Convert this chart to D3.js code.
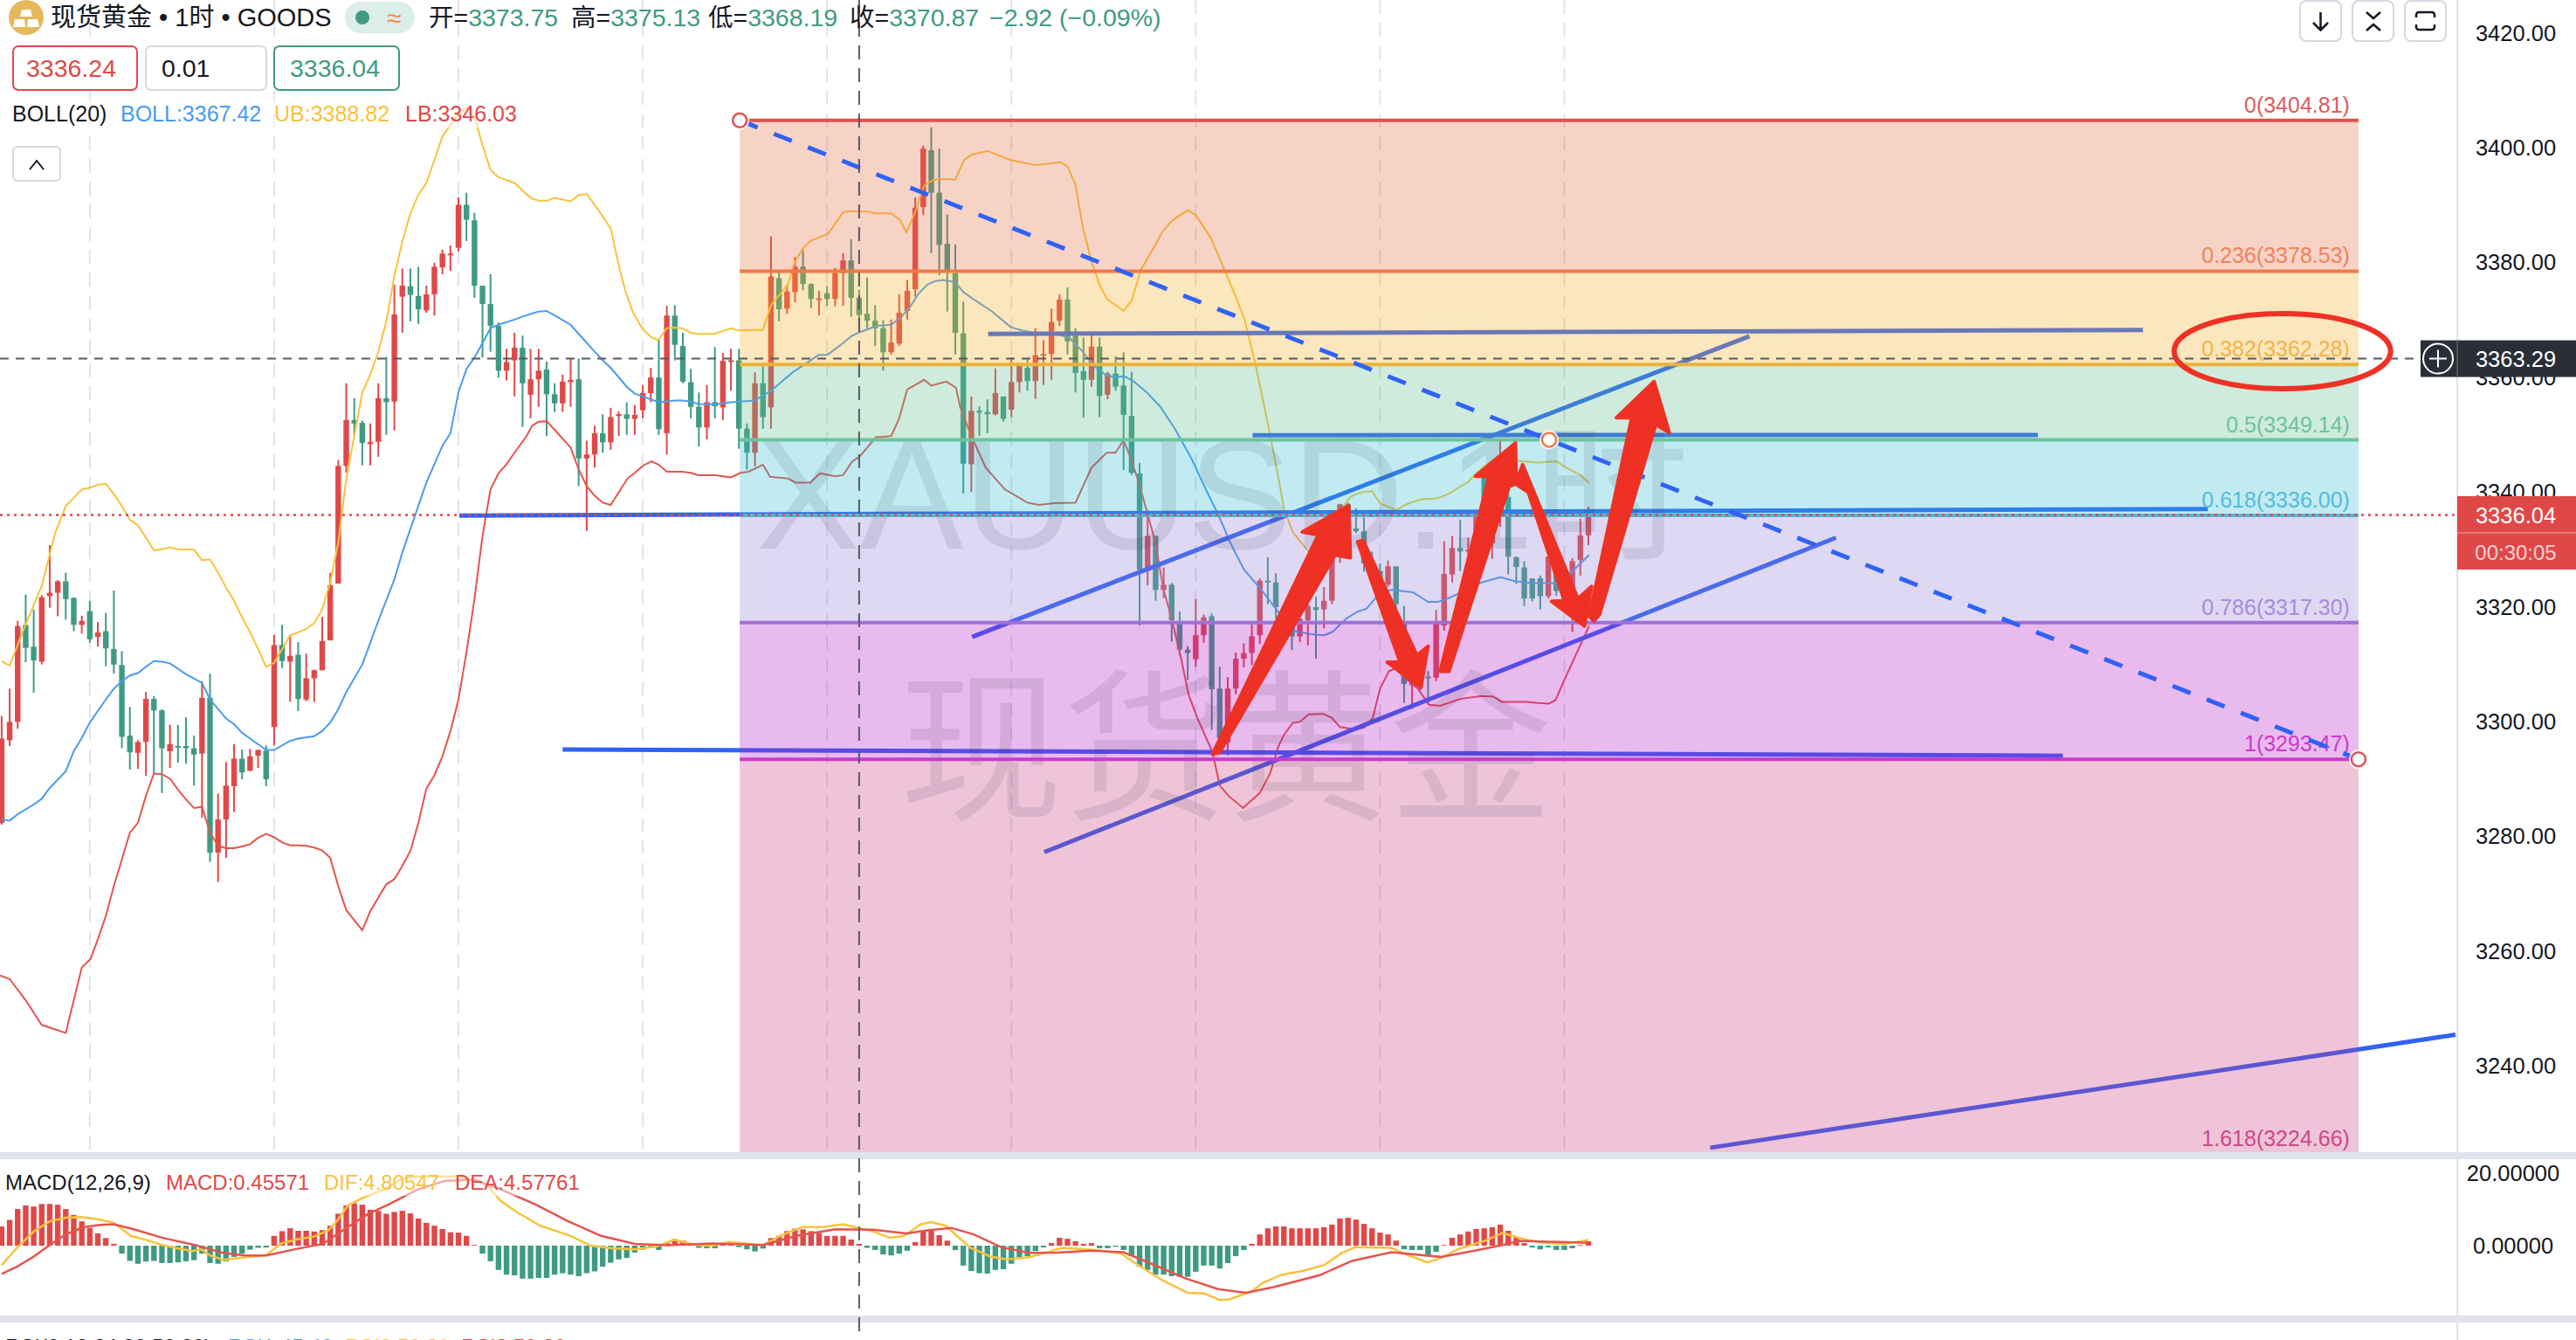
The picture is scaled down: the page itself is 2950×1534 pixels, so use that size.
<!DOCTYPE html>
<html><head><meta charset="utf-8">
<script src="https://cdn.jsdelivr.net/npm/d3@7/dist/d3.min.js"></script>
<style>html,body{margin:0;padding:0;background:#fff;overflow:hidden}svg{display:block}text{font-family:"Liberation Sans","Noto Sans CJK SC",sans-serif}</style>
</head><body><svg id="c" width="2950" height="1534"></svg>
<script>
const opens=[3282.4,3296.8,3300,3316.9,3313.1,3310.5,3321.9,3322.5,3324.5,3321.6,3316.9,3319.3,3314.8,3315.8,3312.7,3309.9,3297.6,3294.6,3296.5,3304,3302,3294.9,3295.8,3295.8,3295.4,3294.5,3304.2,3277.2,3283,3288.8,3293.6,3291.5,3294.1,3295,3299.1,3313.4,3310.5,3311.7,3303.9,3307.6,3309,3314.2,3324.1,3344.6,3352.6,3352.1,3348.4,3348.8,3356.4,3355.8,3374.1,3375.9,3374.2,3371.7,3374.5,3379.2,3381.3,3382.6,3390.1,3387.4,3376,3372.8,3369,3361.2,3363,3365.2,3357,3359.7,3361.4,3357.1,3355.5,3359.2,3359.7,3345.9,3346.6,3350.3,3348.7,3353.4,3353.6,3352.8,3354.3,3357.3,3360,3350.3,3370.8,3365.5,3359.2,3354.9,3351.3,3355.7,3354.8,3362.8,3363,3351.1,3346.9,3359,3354.8,3377.3,3372,3374.9,3379.3,3376.3,3373.5,3374.7,3373.7,3378.2,3380.4,3373.9,3371.1,3369.9,3368.6,3364.4,3365.9,3371.6,3375.4,3389.7,3399.6,3392.2,3383.3,3378.2,3367.7,3344.9,3354.2,3354,3353.6,3356.7,3354.4,3359.2,3361.7,3359.4,3363.9,3364.1,3369.9,3373.6,3367.3,3361.1,3359.6,3365.4,3357,3360.7,3358.6,3353.3,3343.3,3326.3,3332.4,3323,3323.9,3317.4,3312.6,3310.9,3315.1,3318.4,3305.8,3296.4,3305.8,3311,3312,3315.1,3324.6,3324.3,3316.4,3319.5,3314.9,3317.7,3320,3319.6,3321.1,3328.9,3337.9,3333.7,3333.2,3328,3326.3,3323.9,3327.1,3317.2,3306.4,3306.8,3307.9,3307.7,3316.8,3325.7,3330.3,3329.8,3330.1,3343,3331.1,3335.7,3339.2,3328.7,3326.9,3325,3325,3321.9,3328,3321,3323,3328.2,3332.5];
const highs=[3301,3305.8,3317.6,3322.2,3319.6,3322.1,3330.8,3324.7,3326,3321.7,3318.5,3321.1,3317.4,3319,3322.9,3312.3,3302.6,3296.8,3305.2,3304.5,3302.2,3299.5,3299.5,3300.8,3297.6,3307.1,3308.4,3287.5,3293,3296.1,3295.2,3295.3,3295.2,3295.9,3315.2,3316.9,3315.1,3313.9,3311.9,3309.1,3318.3,3326,3345.6,3359,3356.4,3352.5,3352,3359,3363.6,3376.2,3379,3379,3379.3,3376,3380,3382.3,3383,3391.4,3392.2,3388.7,3376,3378,3369.6,3365,3367.8,3367.3,3365,3365,3362.8,3359,3360.5,3363.3,3363.3,3349,3351.6,3353.6,3354.7,3354.1,3355.7,3355.2,3358.7,3361.7,3366.8,3372.5,3372.6,3367.8,3361.5,3357.4,3358.7,3365.3,3364.3,3365,3365,3352,3360.9,3362,3384.6,3378.3,3376.2,3381,3382.2,3376.4,3375.1,3375.9,3379.1,3381.7,3384.1,3375.3,3377.4,3372.6,3370,3370.1,3374.5,3377,3391.4,3400.4,3403.6,3399.9,3388.4,3383.2,3373.2,3356.7,3355,3356.2,3361.6,3356.7,3363.5,3362.5,3363.2,3368.6,3366.5,3372,3374.5,3375.7,3368.6,3367,3367.9,3367,3361,3363.7,3364.4,3361,3345.1,3336.9,3332.4,3326.9,3324.2,3319.2,3313.2,3321.4,3318.7,3318.9,3309.6,3307.8,3312.1,3313.7,3317,3325,3328.7,3325.9,3320.5,3320.5,3320.5,3321.2,3321.8,3323.5,3329.3,3338,3338.2,3337.2,3335.6,3329.7,3327.6,3328.1,3327.1,3320.2,3309.3,3307.6,3308.9,3319.5,3331.5,3332.4,3335.2,3332.1,3335.9,3343,3336,3349.1,3346,3328.8,3328,3325,3325.5,3328.8,3328.8,3323,3328.5,3335.4,3337.5];
const lows=[3282.1,3295.8,3298.8,3310.4,3305.1,3310,3319.9,3318.4,3317.8,3315.8,3315.4,3313.8,3313.1,3309.7,3308.4,3295.4,3291.7,3291.8,3290.6,3291.1,3287.6,3292,3292.9,3292.7,3288.9,3283.3,3275.6,3272.1,3276.3,3284.3,3290,3291.4,3292,3288.8,3295.9,3309.4,3303.5,3301.9,3303.6,3303.5,3309,3314.2,3324.1,3343.4,3349.8,3344.7,3344.7,3346.2,3350,3350.8,3367.8,3369.8,3369.3,3371.3,3370.8,3378,3378.6,3382,3383.8,3373.9,3363.5,3364.5,3360,3359.5,3356.7,3351.4,3352.9,3354.9,3349.8,3354,3354,3354.9,3341.1,3333.3,3344.3,3346.9,3347.4,3349.8,3350,3350,3352.9,3355.7,3350,3346.6,3363,3359,3352.9,3348,3349.2,3352.9,3352.6,3357.7,3347.6,3344,3344.5,3351.1,3351.1,3369.8,3371.1,3373.1,3375.2,3372.1,3370.8,3372.5,3372.4,3372.5,3370.6,3368.3,3368.3,3365.5,3361.2,3364,3365.5,3370.1,3374.1,3388.3,3381.7,3377.8,3371.5,3364,3339.8,3340.1,3349.8,3350.3,3353.4,3352.3,3353.1,3357.4,3357.7,3356.3,3358.7,3359.6,3369,3364,3357.4,3353,3358.4,3353.1,3356.2,3357.7,3343.9,3343,3316.8,3323.8,3321.1,3321.6,3314,3311.6,3307.3,3309.6,3313.8,3298.6,3294.7,3294.2,3304.8,3309.5,3309.9,3313.6,3320.5,3318,3315.2,3312.5,3313.9,3313.3,3311,3316.3,3320.5,3327.7,3333.4,3332.9,3326.2,3325,3321.5,3323.5,3319.5,3303.3,3302.3,3305.4,3303,3307.1,3315.9,3324.3,3326.3,3327,3328.8,3334,3328.4,3334,3325.7,3324,3320.2,3321,3319.6,3321.5,3322,3320,3315.7,3325.5,3330.8];
const closes=[3297.1,3300,3316.7,3312.9,3310.7,3321.7,3322.5,3324.5,3321.4,3316.9,3317.6,3314.4,3315.6,3312.8,3310,3297.4,3294.7,3296.5,3304,3302,3295.4,3296.1,3295.6,3295.4,3294.3,3304.2,3277.2,3283,3288.9,3293.6,3291.2,3294,3295.1,3290,3313.4,3310.6,3311.5,3304,3307.6,3309,3314.1,3323.8,3344.6,3352.6,3352,3348.6,3348.8,3356.4,3355.7,3371,3376,3374.4,3371.9,3374.5,3379.3,3381.6,3381.6,3390.1,3387.5,3376,3372.8,3369,3361.2,3362.7,3365.2,3359,3359.7,3361.2,3357.1,3355.5,3359.3,3359.6,3345.9,3346.6,3350.3,3348.7,3353.1,3353.6,3352.8,3353.5,3357.3,3360,3351,3370.8,3365.7,3359.3,3354.9,3351.3,3355.7,3355,3362.9,3363,3351.1,3346.9,3359,3353.1,3377.6,3371.9,3375,3379.3,3376.3,3373.7,3373.8,3373.7,3378.2,3380.4,3373.9,3370.9,3369.9,3368.6,3364.4,3366.1,3371.3,3375.1,3389.6,3399.9,3392.2,3383.1,3378.3,3367.8,3345,3354.2,3354,3353.6,3357.3,3352.8,3359.2,3362.1,3359.4,3363.9,3364.1,3369.7,3373.6,3366.3,3360.8,3359.6,3365.4,3356.8,3360.7,3358.4,3353.5,3343.4,3326.5,3332.4,3323,3323.9,3317.7,3312.6,3312,3315.1,3318.2,3305.7,3297.2,3305.8,3311,3312,3314.9,3324.6,3324.4,3320,3320,3314.9,3318,3320.2,3319.5,3321.1,3328.8,3337.9,3333.8,3333.2,3327.6,3325.3,3322.3,3327.1,3320.5,3306.6,3307.6,3306,3307.6,3317.2,3325.8,3330.3,3329.7,3330,3335.7,3335.7,3335.7,3346.3,3328.8,3327,3321.5,3321.5,3321.9,3328.8,3322.8,3322,3328,3332.5,3336.04];
const macdHist=[5.3,7.1,10.1,11.1,10.8,11.5,11.5,11.3,10.1,8.5,6.7,4.9,3.4,2.1,0.5,-2.2,-4.2,-5,-4.4,-4.2,-4.8,-4.8,-4.6,-4.3,-4,-2.2,-4.8,-5,-4.3,-3.1,-2.2,-1.1,-0.6,-0.5,2.7,4,4.8,4.1,4.1,3.9,4.3,5.5,8.8,11.1,11.7,11.3,9.9,9.6,8.8,9.3,9.6,8.9,7.5,6.3,5.5,4.6,3.7,3.6,2.7,0.2,-2.2,-4.3,-6.7,-8,-8.2,-9.1,-9.1,-8.9,-8.9,-8,-7.6,-8,-8.4,-7.6,-7.1,-5.8,-4.7,-3.8,-3.4,-1.9,-1.1,-0.6,-1.2,1,1.8,1.4,0.6,-0.6,-0.7,-0.7,0.6,0.4,-0.4,-1,-1.6,-0.8,2.1,2.7,4,4.7,4.5,4,3.5,2.7,2.7,2.7,1.7,0.5,-0.6,-1.2,-2.4,-2.7,-2.2,-1.4,1,3.9,4.3,2.9,1.4,-1.2,-5.5,-7,-7.6,-7.7,-6.7,-6.5,-5,-3.2,-2.9,-1.5,-0.5,0.7,2.2,1.9,1.2,0.5,0.7,-0.7,-0.7,-0.3,-1.2,-2.9,-5.8,-6.7,-8,-8,-8.4,-8.6,-8.6,-7.2,-5.5,-5.5,-6.3,-4.8,-2.9,-1.2,0.5,3.1,4.8,5.3,5.3,4.8,4.8,4.8,4.8,5.1,5.8,7.5,7.7,7.2,6,4.8,3.6,3.1,1.4,-1,-1.2,-1.2,-2.9,-1.7,0.2,2.2,3.1,3.9,4.6,4.8,5.1,5.8,4.1,2.4,0.7,-0.5,-1,-0.5,-1.2,-1.2,-0.7,0.2,1.2];
// [candle index, value] vertices
const bollUpper=[[0,3310.6],[1,3309.8],[2.6,3315.6],[5,3323.7],[6.7,3333],[8,3337.6],[10,3340.5],[11,3340.8],[12,3341.3],[13,3341.5],[14,3339.7],[15,3337.6],[16,3335.2],[17,3334.3],[19,3329.9],[20,3330.1],[21,3330.4],[22,3330.1],[24,3330],[25,3328.2],[26,3328.3],[27,3326],[28,3323.4],[29,3321.1],[30,3318.2],[31,3315.6],[32,3312.7],[33,3309.6],[34,3310.3],[35,3312.7],[36,3315.1],[37,3315.6],[38,3316.2],[39,3317.2],[40,3319.6],[41,3324.3],[42,3331.2],[43,3342.3],[44,3349.8],[45,3357.4],[46,3360.5],[47,3364.5],[48,3369.8],[49,3377.7],[50,3383.7],[51,3388.6],[52,3391.9],[53,3393.9],[54,3397.9],[55,3402],[56,3404],[57,3405.8],[58,3407],[59,3405.5],[60,3400.5],[61,3396.2],[62,3394.9],[64,3393.9],[65,3392.6],[66,3391.3],[67,3390.8],[68,3390.8],[69,3391.3],[70,3391],[71,3390.7],[72,3391.8],[73,3392],[74,3390.1],[75,3388.1],[76,3386],[76.9,3380.2],[77.8,3375.2],[78.8,3371.3],[79.9,3368.6],[81,3367.1],[81.9,3366.5],[83,3368.6],[84,3368.7],[84.9,3368.6],[86,3367.8],[86.9,3367.6],[88.9,3367.6],[91,3368.6],[91.9,3368.2],[94,3368.3],[95,3368.3],[96,3372.6],[98.1,3376.2],[99,3380.2],[100,3382.5],[100.9,3383.8],[103.1,3385],[105,3388.8],[105.9,3389],[108.1,3388.9],[109,3388.6],[111,3388.6],[112,3387.6],[112.9,3385.3],[114,3388.8],[115.1,3393.4],[116.2,3394.4],[117.1,3394.6],[119,3394.5],[120.1,3397.9],[121,3398.8],[123,3399.5],[125.9,3397.9],[129,3397],[132.1,3397.5],[133,3396.8],[134,3393.6],[134.9,3386.3],[136,3380.2],[137,3376.2],[137.9,3373.7],[140,3371.6],[141,3373.4],[142.2,3378.9],[144,3383.2],[144.8,3385.3],[146,3387.3],[148,3389.2],[149,3388.3],[150.9,3384.3],[152.6,3378.7],[154,3374.1],[155.1,3370.1],[156.5,3362],[158.2,3350.6],[159.5,3341.2],[160,3337.2],[161.1,3333.1],[163.1,3329.6],[164.5,3331.1],[166,3334.6],[167.5,3337.7],[168.3,3339.2],[169,3339.7],[170,3340.1],[171,3340.2],[172,3338.1],[174,3336.9],[175,3337.7],[176,3338.3],[177.2,3338.8],[178.8,3338.9],[179.7,3339.2],[180.9,3340],[182,3341],[183,3341.8],[184,3343.3],[185,3344.5],[187,3346.6],[187.8,3346.3],[189.5,3345.4],[191.7,3345.2],[194,3345.4],[195,3344.5],[197,3343],[198.1,3341.6]];
const bollMid=[[0,3283],[1,3282.8],[2,3283.9],[4,3285.6],[5,3286.6],[6,3288.5],[8,3291.4],[9,3294.9],[10,3297.2],[11,3299.9],[13,3303.9],[14,3305.8],[15,3307.1],[16,3308.1],[17,3308.5],[18,3309.6],[19,3310.6],[20,3310.5],[21,3310.2],[23,3308.3],[25,3306.8],[26,3303.9],[28,3300.6],[29,3299.6],[30,3298.1],[31,3297.1],[33,3295.1],[34,3295.1],[36,3296.7],[37,3297.1],[39,3297.5],[40,3298.4],[41,3299.9],[42,3302.2],[43,3305.2],[45,3310],[47,3317.6],[49,3324.8],[50,3329.5],[51,3333.6],[53,3341.7],[54,3344.9],[55,3348.1],[56,3350.3],[57,3357.4],[58,3361.5],[59,3363.5],[60,3366],[61,3368.6],[62,3369.2],[64,3370.1],[65.8,3371],[67,3371.5],[68,3371.6],[69.3,3370.6],[71,3369.2],[72,3367.6],[74,3364.5],[75,3363],[76,3361.7],[78,3358.4],[79,3357.2],[80,3356.7],[82,3355.7],[84,3356],[85,3356],[86,3355.8],[87,3355.4],[89,3355.3],[91,3355.7],[92,3355.8],[94,3356],[95,3356.9],[96,3357.7],[97,3358.9],[98.8,3361],[100,3362.1],[101.9,3363.9],[103.1,3364],[105,3366],[106.1,3367.3],[107.1,3367.9],[109.2,3369],[111,3369.2],[112.3,3370.6],[113.4,3372.4],[114.4,3374.6],[115.5,3376.2],[116.5,3376.8],[117.5,3377],[119,3376.6],[120,3374.9],[121,3373.9],[123.5,3371.6],[125.9,3368.8],[127.3,3368.2],[129.7,3367.6],[131.4,3367.6],[133.2,3367],[134.9,3364.5],[136.3,3362],[137.7,3360.5],[138.7,3360.1],[140.1,3360.2],[141.2,3359.4],[142.9,3357.4],[144.6,3354.9],[146.4,3351.1],[148.5,3345.8],[150.2,3340.7],[151.6,3336.7],[152.6,3333.6],[153,3332.1],[155,3326.6],[157.2,3323],[159.4,3319],[161.1,3315.9],[163.3,3315.3],[165,3315.1],[166.1,3315.7],[167.8,3318],[169.2,3319.2],[170.3,3319.7],[172,3322.5],[173.4,3323],[176.1,3322.6],[178,3320.9],[179.2,3320.9],[180.3,3321.4],[182,3322.5],[184.7,3324.3],[187,3325.2],[188.9,3324.5],[190.9,3324.2],[194,3324.2],[195.3,3325.3],[197,3327.6],[198.1,3329.1]];
const bollLower=[[-0.2,3255.8],[1,3255.2],[3,3251.5],[5,3247.2],[8,3245.8],[10,3257.2],[11.1,3258.7],[12,3262.1],[13,3266.2],[14,3271.4],[15,3276],[16,3280.7],[17,3282.4],[18,3287.1],[19,3291],[20,3290.9],[21,3290.1],[22,3288.2],[23,3286.5],[24,3285],[25,3285.2],[26,3280.7],[27,3278.4],[28,3278],[29,3278],[30,3278.3],[31,3278.7],[32,3279.8],[33,3280.5],[34,3279.9],[35,3279],[36,3278.5],[37,3278.5],[38,3278.4],[39,3278.1],[40,3277.6],[41,3276.3],[42,3271.4],[43,3267.2],[45,3263.7],[46,3267],[47,3269.4],[48,3271.7],[49,3272.6],[50,3274.9],[51,3277.5],[52,3282.4],[53,3288.4],[54,3290.7],[55,3294],[56,3298.4],[57,3303.9],[58,3312.1],[59,3321.4],[60,3332.4],[61,3340.5],[62,3343.3],[63,3344.9],[64,3346.9],[65.5,3349.8],[66.2,3351.6],[67,3352.3],[68,3352.4],[69,3350.9],[71,3347.8],[72,3344],[73,3341.1],[74,3339.4],[75,3338.2],[76,3337.8],[78.1,3342.4],[79,3343.4],[80.1,3344.7],[81.1,3345.4],[82,3344.8],[83,3343.6],[84.9,3343.6],[86,3343.4],[86.9,3343],[89,3343],[91,3342.6],[92.2,3343.4],[93.2,3343.6],[95,3344.8],[95.9,3342.7],[98.1,3342.4],[99.1,3341.7],[100.9,3341.7],[102.1,3343.3],[104,3342.8],[105,3343],[106.1,3345.3],[107.1,3346.3],[108.2,3348.1],[109.1,3349.6],[111,3349.8],[112,3352.9],[113,3357.9],[114.1,3358.8],[115.1,3359.6],[116,3358.6],[117.9,3359.3],[119.1,3358.2],[119.6,3354.9],[121,3349.8],[122.8,3344.3],[125.2,3340.5],[128,3338.2],[129.4,3337.8],[131.4,3338.1],[134,3338.2],[136,3344.3],[137.9,3346.9],[139,3346.9],[140,3349.1],[140.8,3346.3],[141.9,3341.7],[142.9,3336.7],[143.9,3331.6],[145,3323],[146.1,3317.4],[147.2,3310.9],[148.1,3304.8],[149.2,3300.7],[151.1,3294.7],[152,3288.9],[153.1,3287.1],[154.9,3285],[157,3287.6],[158.3,3291.1],[159.3,3295.7],[160,3297.7],[161.1,3299.8],[162,3300],[163.1,3301.3],[164.9,3301.4],[166,3300.7],[167,3299.1],[168.9,3298.7],[170,3299],[171.1,3300.7],[172,3305.8],[173.1,3308.8],[173.9,3309.3],[175,3307.8],[176.7,3305.8],[178.1,3303],[179.5,3302.8],[182,3304],[184.7,3304.5],[186.1,3304.4],[187.2,3303.5],[190.3,3303.5],[191.7,3303.3],[193.1,3303.2],[193.9,3303.8],[195,3307.3],[197,3313.4],[198.1,3316.7]];
const macdDif=[[0,-5.4],[1.9,-0.6],[4,3.9],[6,6.7],[8,7.7],[9.9,7.9],[12,7.3],[14,6.3],[16.1,2.7],[18,1.6],[20,0.2],[22,-0.8],[23.8,-1.5],[24.9,-1],[26,-2.7],[27.6,-3.9],[29.7,-3.4],[33,-2.6],[34.9,0.6],[37,1.8],[39,2.5],[40.8,4.3],[41.8,6.7],[43.2,11.1],[45,13.1],[47.7,15.5],[49.8,18.3],[51.9,19.1],[56.8,19.1],[59.6,17.9],[60.9,15.9],[62.3,12.3],[64.4,9.1],[67.2,5.5],[71,2.7],[73.5,0],[76.2,-0.7],[79,-1],[81.8,-0.2],[83.9,1.6],[86.7,0.2],[88.7,0],[90.8,1],[95,0.1],[97.1,2.7],[99.9,5.1],[102.6,5.2],[105,5.9],[108.8,3.9],[110.8,2.2],[112.6,2.7],[114.7,5.9],[116,6.5],[117.8,5.5],[119.2,2.7],[120.9,-0.6],[123.4,-3],[125.4,-3.8],[128.2,-3.2],[132.4,-0.6],[136.6,-1.2],[139.7,-2.2],[142.1,-5.8],[144.9,-9.6],[148,-13],[150.1,-13.2],[152,-15],[153.2,-14.8],[156,-12.6],[157.4,-10.2],[159.8,-8],[162.3,-7],[165,-5.4],[167.1,-2.2],[168.9,-0.4],[173.4,-0.6],[175.5,-2.6],[177.9,-4.6],[179.6,-3.4],[181.7,-1],[185.2,1.4],[187.3,3.5],[190.1,1.7],[192.2,0.9],[194.9,0.4],[198,1.6]];
const macdDea=[[0,-7.8],[1.9,-5.8],[4,-3],[6,0.2],[8,3.1],[10.2,5.1],[12.3,5.7],[14,5.9],[16.5,4.5],[20,2.2],[24.1,0.2],[27.6,-2],[30.4,-2.7],[33,-2.7],[36.6,-1],[40.1,0.5],[42.9,4.7],[45.7,8.7],[48.4,11.5],[51.9,15.5],[55.4,17.9],[58.9,18.2],[62.3,15.5],[66.5,11.5],[70.7,6.7],[74.8,2.7],[79,0.5],[83.2,0.1],[88.7,0.6],[95,0.2],[99.2,2.7],[104,4.5],[108.8,4.4],[112.9,3.4],[115.7,4.3],[118.5,4.9],[121.3,3.1],[124.7,-0.4],[128.2,-2],[131.7,-1.9],[135.9,-1.4],[140,-1.8],[143.5,-5],[147.7,-9],[151.8,-12],[155.3,-13],[158.8,-11.4],[164.4,-8.2],[168.5,-4.2],[173.4,-1.8],[179.6,-3.1],[183.8,-1.4],[187.3,0.2],[189.4,1.3],[198,0.8]];
const priceTicks=[3420,3400,3380,3360,3340,3320,3300,3280,3260,3240];
const macdTicks=[20,0];
const gridCandles=[11,34,57,80,103,126,149,172,195];
const crosshairCandle=107, crosshairPrice=3363.29, lastPrice=3336.04;
const fibLevels=["0","0.236","0.382","0.5","0.618","0.786","1","1.618"];
const fibPrices=[3404.81,3378.53,3362.28,3349.14,3336.00,3317.30,3293.47,3224.66];
const fibLineColors=["#E05252","#EF7A47","#E8B33D","#6CC49B","#4DB6D6","#A06FD8","#C93BCB","#CA3A7D"];
const fibTextColors=["#E05A5A","#F0825A","#F5B342","#6CC49B","#55BCDB","#A98BDF","#C93BCB","#CA4A88"];
const fibBandColors=["#E46C41","#F2AC26","#5FBC8E","#33BCD0","#917DD4","#B61CC6","#CA3A7D"];
const fibCandles=[92.1,294.1];
// drawn trend lines: [candle index, price]
const blueLines=[[[57.1,3335.95],[275.3,3337.1]],[[70,3295.2],[257.2,3294.1]],[[123.1,3367.6],[267.2,3368.3]],[[156.1,3349.95],[254.1,3350]],[[121.1,3314.8],[218.1,3367.2]],[[130.1,3277.3],[228.9,3332.1]],[[213.2,3225.8],[306.2,3245.5]]];
const dashedLine=[[92.1,3404.81],[294.1,3293.47]];
const dashedMarkers=[[92.1,3404.81,"#E05252"],[193.1,3349.14,"#EF7A47"],[294.1,3293.47,"#E05252"]];
const redArrows=[
[[151.1,3294.4],[164.3,3332.6],[162.3,3333.1],[168.1,3337.7],[168.3,3328.6],[166.4,3329.1],[152,3294.7]],
[[169.2,3331.4],[174.5,3310.4],[172.9,3310.4],[177.1,3306],[178,3313.2],[176.6,3311.6],[169.9,3331.6]],
[[179.5,3308.8],[185.6,3342.8],[183.9,3342.8],[188.9,3348.6],[189,3341.5],[188.1,3341],[180.6,3308.8]],
[[188.9,3341.5],[189.8,3344.8],[196.7,3321.5],[198.4,3323.6],[197.5,3316.7],[193.4,3321],[195,3321.1],[190.5,3340]],
[[198.1,3318.4],[198.7,3317.6],[199.4,3318.7],[206.4,3351.8],[208.1,3350.4],[206.2,3359.3],[201.5,3353],[203.4,3353]]];
const ellipseCentre=[284.6,3364.6];

const W=2950,H=1534,axisX=2814,mainBottom=1319;
const RED="#E04848",GREEN="#3F9A83",YEL="#F9C23C",BLUE="#4A9BEE",INK="#131722",GRID="#E0E3EB";
const x=d3.scaleLinear().domain([0,198]).range([1.9,1819]);
const y=d3.scaleLinear().domain([3420,3240]).range([38,1220.6]);
const m=d3.scaleLinear().domain([20,0]).range([1343,1426]);
const svg=d3.select("#c");
const defs=svg.append("defs");
defs.append("clipPath").attr("id","mainClip").append("rect").attr("x",0).attr("y",0).attr("width",axisX).attr("height",mainBottom);
defs.append("clipPath").attr("id","macdClip").append("rect").attr("x",0).attr("y",1327).attr("width",axisX).attr("height",179);
svg.append("rect").attr("width",W).attr("height",H).attr("fill","#fff");
const main=svg.append("g").attr("clip-path","url(#mainClip)");
// grid
main.selectAll(".g").data(gridCandles).join("line").attr("x1",d=>x(d)).attr("x2",d=>x(d)).attr("y1",0).attr("y2",mainBottom)
 .attr("stroke",GRID).attr("stroke-width",2).attr("stroke-dasharray","16 10");
// candles
const idx=d3.range(closes.length);
const col=i=>closes[i]>=opens[i]?RED:GREEN;
main.append("g").selectAll("line").data(idx).join("line").attr("x1",i=>x(i)).attr("x2",i=>x(i)).attr("y1",i=>y(highs[i])).attr("y2",i=>y(lows[i])).attr("stroke",col).attr("stroke-width",2);
main.append("g").selectAll("rect").data(idx).join("rect").attr("x",i=>x(i)-3.2).attr("width",6.4)
 .attr("y",i=>y(Math.max(opens[i],closes[i]))).attr("height",i=>Math.max(2,Math.abs(y(opens[i])-y(closes[i])))).attr("fill",col);
// BOLL
const pl=d3.line().x(d=>x(d[0])).y(d=>y(d[1]));
[[bollUpper,YEL],[bollMid,BLUE],[bollLower,"#E5544B"]].forEach(([s,c])=>main.append("path").attr("d",pl(s)).attr("fill","none").attr("stroke",c).attr("stroke-width",2));
// drawn lines sit under the translucent fib bands
blueLines.forEach(l=>main.append("path").attr("d",pl(l)).attr("fill","none").attr("stroke","#2F62F5").attr("stroke-width",5));
// fib bands
fibBandColors.forEach((c,i)=>{
 main.append("rect").attr("x",x(fibCandles[0])).attr("width",x(fibCandles[1])-x(fibCandles[0]))
  .attr("y",y(fibPrices[i])).attr("height",y(fibPrices[i+1])-y(fibPrices[i])).attr("fill",c).attr("fill-opacity",0.3);
});
// watermark
const wm=main.append("g").attr("fill","#32324a").attr("fill-opacity",0.11);
wm.append("text").attr("x",866).attr("y",628).attr("font-size",178).text("XAUUSD.1时");
wm.append("text").attr("x",1404).attr("y",925).attr("text-anchor","middle").attr("font-size",187).attr("font-family","'Noto Sans CJK SC'").attr("font-weight",400).text("现货黄金");
// fib lines + labels
fibPrices.forEach((p,i)=>{
 main.append("line").attr("x1",x(fibCandles[0])).attr("x2",x(fibCandles[1])).attr("y1",y(p)).attr("y2",y(p)).attr("stroke",fibLineColors[i]).attr("stroke-width",4);
 main.append("text").attr("x",x(fibCandles[1])-10).attr("y",y(p)-9).attr("text-anchor","end").attr("font-size",25).attr("fill",fibTextColors[i])
  .text(fibLevels[i]+"("+p.toFixed(2)+")");
});
// crosshair + last price
main.append("line").attr("x1",0).attr("x2",axisX).attr("y1",y(lastPrice)).attr("y2",y(lastPrice)).attr("stroke",RED).attr("stroke-width",2.5).attr("stroke-dasharray","3 5");
main.append("line").attr("x1",0).attr("x2",2772).attr("y1",y(crosshairPrice)).attr("y2",y(crosshairPrice)).attr("stroke","#555964").attr("stroke-width",2).attr("stroke-dasharray","10 8");
main.append("path").attr("d",pl(dashedLine)).attr("fill","none").attr("stroke","#2F62F5").attr("stroke-width",5).attr("stroke-dasharray","22 20");
dashedMarkers.forEach(d=>{
 main.append("circle").attr("cx",x(d[0])).attr("cy",y(d[1])).attr("r",11).attr("fill","#fff").attr("fill-opacity",.8);
 main.append("circle").attr("cx",x(d[0])).attr("cy",y(d[1])).attr("r",8).attr("fill","#fff").attr("stroke",d[2]).attr("stroke-width",2.5);
});
// arrows & ellipse
const ap=d3.line().x(d=>x(d[0])).y(d=>y(d[1])).curve(d3.curveLinearClosed);
redArrows.forEach(a=>main.append("path").attr("d",ap(a)).attr("fill","#EE3124").attr("stroke","#EE3124").attr("stroke-width",4).attr("stroke-linejoin","round"));
main.append("ellipse").attr("cx",x(ellipseCentre[0])).attr("cy",y(ellipseCentre[1])).attr("rx",124).attr("ry",43).attr("fill","none").attr("stroke","#EE3124").attr("stroke-width",6);

// MACD
const macd=svg.append("g").attr("clip-path","url(#macdClip)");
macd.selectAll("rect").data(idx).join("rect").attr("x",i=>x(i)-3.2).attr("width",6.4)
 .attr("y",i=>m(Math.max(0,macdHist[i]))).attr("height",i=>Math.abs(m(macdHist[i])-m(0))).attr("fill",i=>macdHist[i]>=0?RED:GREEN);
const ml=d3.line().x(d=>x(d[0])).y(d=>m(d[1]));
macd.append("path").attr("d",ml(macdDif)).attr("fill","none").attr("stroke",YEL).attr("stroke-width",2.5);
macd.append("path").attr("d",ml(macdDea)).attr("fill","none").attr("stroke","#E5544B").attr("stroke-width",2.5);

// separators, axis line
[[1319,8],[1506,8]].forEach(s=>svg.append("rect").attr("x",0).attr("y",s[0]).attr("width",W).attr("height",s[1]).attr("fill",GRID));
svg.append("line").attr("x1",axisX).attr("x2",axisX).attr("y1",0).attr("y2",H).attr("stroke",GRID).attr("stroke-width",2);
svg.append("line").attr("x1",x(crosshairCandle)).attr("x2",x(crosshairCandle)).attr("y1",0).attr("y2",H).attr("stroke","#555964").attr("stroke-width",2).attr("stroke-dasharray","16 10");

// axes
const styleAxis=g=>{g.select(".domain").remove();g.selectAll("line").remove();g.selectAll("text").attr("x",0).attr("text-anchor","middle").attr("font-size",25.5).attr("font-family","'Liberation Sans'").attr("fill",INK);};
svg.append("g").attr("transform","translate(2881,0)").call(d3.axisRight(y).tickValues(priceTicks).tickFormat(d3.format(".2f"))).call(styleAxis);
svg.append("g").attr("transform","translate(2878,0)").call(d3.axisRight(m).tickValues(macdTicks).tickFormat(d3.format(".5f"))).call(styleAxis);

// price tags
svg.append("rect").attr("x",2772).attr("y",y(crosshairPrice)-21).attr("width",178).attr("height",42).attr("fill","#2A2E39");
svg.append("line").attr("x1",axisX).attr("x2",axisX).attr("y1",y(crosshairPrice)-21).attr("y2",y(crosshairPrice)+21).attr("stroke","#777").attr("stroke-width",1);
svg.append("circle").attr("cx",2792).attr("cy",y(crosshairPrice)).attr("r",17).attr("fill","none").attr("stroke","#fff").attr("stroke-width",2);
svg.append("path").attr("d",`M2782 ${y(crosshairPrice)}h20M2792 ${y(crosshairPrice)-10}v20`).attr("stroke","#fff").attr("stroke-width",2);
svg.append("text").attr("x",2881).attr("y",y(crosshairPrice)).attr("dy","0.36em").attr("text-anchor","middle").attr("font-size",25.5).attr("fill","#fff").text(crosshairPrice.toFixed(2));
svg.append("rect").attr("x",axisX).attr("y",568).attr("width",136).attr("height",84).attr("fill",RED);
svg.append("line").attr("x1",axisX).attr("x2",W).attr("y1",610).attr("y2",610).attr("stroke","#fff").attr("stroke-opacity",.35).attr("stroke-width",1.5);
svg.append("text").attr("x",2881).attr("y",590).attr("dy","0.36em").attr("text-anchor","middle").attr("font-size",25.5).attr("fill","#fff").text(lastPrice.toFixed(2));
svg.append("text").attr("x",2881).attr("y",632).attr("dy","0.36em").attr("text-anchor","middle").attr("font-size",24).attr("fill","#fff").attr("fill-opacity",.75).text("00:30:05");

// header
const coin=svg.append("g");
coin.append("circle").attr("cx",30).attr("cy",20).attr("r",20).attr("fill","#E5B85C");
coin.append("path").attr("d","M25 11h10l2 8h-14zM17 22h11l1 9h-14zM32 22h11l2 9h-14z").attr("fill","#fff");
const tx=(xp,yp,s,c,fs,extra)=>{const t=svg.append("text").attr("x",xp).attr("y",yp).attr("dy","0.36em").attr("font-size",fs).attr("fill",c).text(s);if(extra)t.attr("text-anchor",extra);return t;};
tx(58,20,"现货黄金 • 1时 • GOODS",INK,29);
svg.append("rect").attr("x",395).attr("y",2).attr("width",80).attr("height",36).attr("rx",18).attr("fill","#DCEEEA");
svg.append("circle").attr("cx",415).attr("cy",20).attr("r",8).attr("fill",GREEN);
tx(443,20,"≈","#F08A5D",30);
[["开=",491,"3373.75"],["高=",654,"3375.13"],["低=",811,"3368.19"],["收=",973,"3370.87"]].forEach(a=>{
 const t=tx(a[1],20,"",INK,28.5);
 t.append("tspan").attr("fill",INK).text(a[0]);
 t.append("tspan").attr("fill",GREEN).text(a[2]);
});
tx(1133,20,"−2.92 (−0.09%)",GREEN,28.5);
[[15,142,RED,"3336.24",RED,30],[167,138,"#D5D8E0","0.01",INK,185],[314,143,GREEN,"3336.04",GREEN,332]].forEach(b=>{
 svg.append("rect").attr("x",b[0]).attr("y",53).attr("width",b[1]).attr("height",50).attr("rx",6).attr("fill","#fff").attr("stroke",b[2]).attr("stroke-width",2);
 tx(b[5],78,b[3],b[4],28.5);
});
// legends
svg.append("rect").attr("x",0).attr("y",114).attr("width",600).attr("height",32).attr("fill","#fff").attr("fill-opacity",.5);
tx(14,130,"BOLL(20)",INK,25);tx(138,130,"BOLL:3367.42",BLUE,25);tx(314,130,"UB:3388.82",YEL,25);tx(464,130,"LB:3346.03",RED,25);
svg.append("rect").attr("x",15).attr("y",168).attr("width",54).attr("height",39).attr("rx",5).attr("fill","#fff").attr("stroke","#D5D8E0").attr("stroke-width",2);
svg.append("path").attr("d","M34 194l8-10l8 10").attr("fill","none").attr("stroke",INK).attr("stroke-width",2);
svg.append("rect").attr("x",0).attr("y",1337).attr("width",665).attr("height",32).attr("fill","#fff").attr("fill-opacity",.5);
tx(6,1353,"MACD(12,26,9)",INK,24);tx(190,1353,"MACD:0.45571",RED,24);tx(371,1353,"DIF:4.80547",YEL,24);tx(521,1353,"DEA:4.57761",RED,24);
tx(6,1541,"RSI(6,12,24,30,50,80)",INK,24);tx(261,1541,"RSI1:45.40",BLUE,24);tx(395,1541,"RSI2:50.21",YEL,24);tx(528,1541,"RSI3:50.80",RED,24);
// top right buttons
[2634,2694,2754].forEach(bx=>svg.append("rect").attr("x",bx).attr("y",1).attr("width",47).attr("height",46).attr("rx",7).attr("fill","#fff").attr("stroke","#D5D8E0").attr("stroke-width",2));
const ic="#131722";
svg.append("path").attr("d","M2657.5 14v20M2649 26l8.5 8.500l8.500-8.500").attr("fill","none").attr("stroke",ic).attr("stroke-width",2.5);
svg.append("path").attr("d","M2710 14l8 7l8-7M2710 35l8-7l8 7").attr("fill","none").attr("stroke",ic).attr("stroke-width",2.5);
svg.append("path").attr("d","M2767 20v-3a3 3 0 0 1 3-3h15a3 3 0 0 1 3 3v3M2767 28v3a3 3 0 0 0 3 3h15a3 3 0 0 0 3-3v-3").attr("fill","none").attr("stroke",ic).attr("stroke-width",2.5);
</script></body></html>
